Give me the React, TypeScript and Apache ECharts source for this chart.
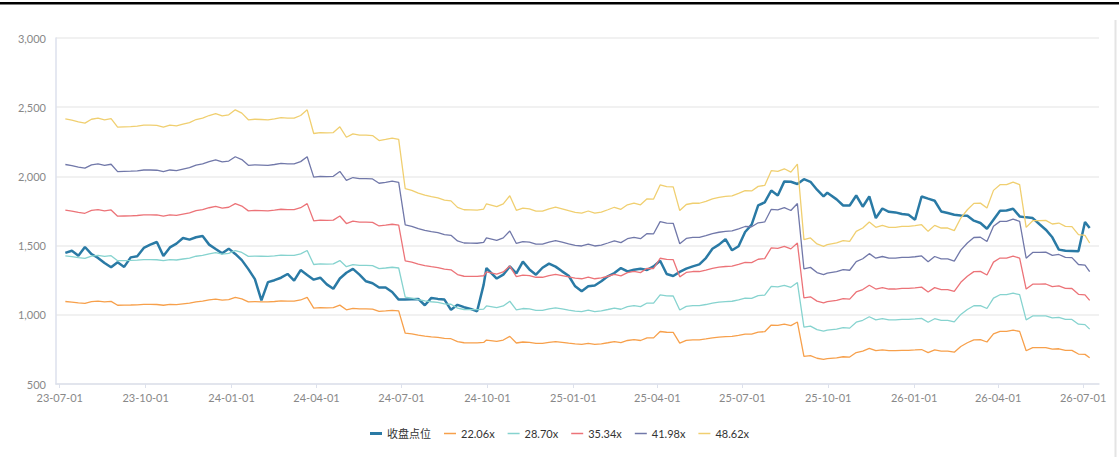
import React, { useEffect, useRef } from "react";
import * as echarts from "echarts";

const dates = [
  "2023-07-07","2023-07-14","2023-07-21","2023-07-28","2023-08-04","2023-08-11","2023-08-18","2023-08-25","2023-09-01","2023-09-08",
  "2023-09-15","2023-09-22","2023-09-29","2023-10-06","2023-10-13","2023-10-20","2023-10-27","2023-11-03","2023-11-10","2023-11-17",
  "2023-11-24","2023-12-01","2023-12-08","2023-12-15","2023-12-22","2023-12-29",
  "2024-01-05","2024-01-12","2024-01-19","2024-01-26","2024-02-02","2024-02-09","2024-02-16","2024-02-23","2024-03-01","2024-03-08",
  "2024-03-15","2024-03-22","2024-03-29","2024-04-05","2024-04-12","2024-04-19","2024-04-26","2024-05-03","2024-05-10","2024-05-17",
  "2024-05-24","2024-05-31","2024-06-07","2024-06-14","2024-06-21","2024-06-28","2024-07-05","2024-07-12","2024-07-19","2024-07-26",
  "2024-08-02","2024-08-09","2024-08-16","2024-08-23","2024-08-30","2024-09-06","2024-09-13","2024-09-20","2024-09-27","2024-09-30",
  "2024-10-11","2024-10-18","2024-10-25","2024-11-01","2024-11-08","2024-11-15","2024-11-22","2024-11-29","2024-12-06","2024-12-13",
  "2024-12-20","2024-12-27",
  "2025-01-03","2025-01-10","2025-01-17","2025-01-24","2025-01-31","2025-02-07","2025-02-14","2025-02-21","2025-02-28","2025-03-07",
  "2025-03-14","2025-03-21","2025-03-28","2025-04-04","2025-04-11","2025-04-18","2025-04-25","2025-05-02","2025-05-09","2025-05-16",
  "2025-05-23","2025-05-30","2025-06-06","2025-06-13","2025-06-20","2025-06-27","2025-07-04","2025-07-11","2025-07-18","2025-07-25",
  "2025-08-01","2025-08-08","2025-08-15","2025-08-22","2025-08-29","2025-09-05","2025-09-12","2025-09-19","2025-09-26","2025-09-30",
  "2025-10-10","2025-10-17","2025-10-24","2025-10-31","2025-11-07","2025-11-14","2025-11-21","2025-11-28","2025-12-05","2025-12-12",
  "2025-12-19","2025-12-26",
  "2026-01-02","2026-01-09","2026-01-16","2026-01-23","2026-01-30","2026-02-06","2026-02-13","2026-02-20","2026-02-27","2026-03-06",
  "2026-03-13","2026-03-20","2026-03-27","2026-04-03","2026-04-10","2026-04-17","2026-04-24","2026-05-01","2026-05-08","2026-05-15",
  "2026-05-22","2026-05-29","2026-06-05","2026-06-12","2026-06-19","2026-06-26","2026-07-03","2026-07-08"
];

const closeValues = [
  1447,1463,1427,1490,1439,1411,1374,1343,1379,1346,
  1415,1423,1483,1507,1526,1425,1487,1514,1555,1543,
  1560,1569,1507,1475,1444,1478,
  1440,1395,1330,1258,1104,1236,1250,1268,1295,1247,
  1323,1288,1254,1268,1220,1188,1262,1304,1332,1290,
  1242,1228,1197,1197,1165,1110,1110,1112,1115,1069,
  1122,1115,1110,1036,1072,1055,1043,1026,1218,1338,
  1262,1290,1350,1300,1384,1328,1290,1340,1370,1348,
  1314,1282,
  1206,1170,1206,1212,1242,1278,1302,1338,1314,1326,
  1333,1324,1350,1391,1295,1280,1310,1334,1350,1364,
  1410,1477,1507,1546,1466,1495,1598,1651,1790,1812,
  1898,1862,1964,1961,1945,1980,1961,1904,1856,1882,
  1834,1790,1790,1862,1781,1855,1699,1768,1744,1740,
  1728,1723,
  1687,1855,1839,1824,1747,1735,1723,1718,1716,1680,
  1663,1622,1687,1752,1754,1766,1711,1704,1699,1656,
  1615,1560,1471,1463,1461,1459,1670,1627
];

// top band (48.62x); EPS = value / 48.62
const topBandValues = [
  2416,2406,2394,2385,2413,2421,2409,2418,2356,2358,
  2360,2363,2370,2370,2368,2356,2370,2365,2377,2389,
  2411,2421,2440,2454,2437,2445,
  2481,2457,2409,2413,2411,2409,2416,2425,2421,2421,
  2440,2481,2310,2317,2315,2317,2358,2283,2307,2298,
  2298,2295,2259,2267,2276,2267,1911,1899,1879,1864,
  1854,1845,1829,1823,1776,1759,1758,1757,1764,1802,
  1781,1802,1860,1755,1771,1766,1749,1749,1766,1778,
  1766,1752,
  1740,1734,1750,1734,1742,1759,1777,1762,1795,1807,
  1795,1838,1836,1938,1926,1924,1753,1797,1806,1806,
  1820,1838,1849,1856,1860,1878,1897,1895,1928,1935,
  2041,2036,2055,2031,2089,1543,1555,1512,1495,1507,
  1519,1536,1531,1603,1627,1670,1632,1646,1632,1632,
  1639,1639,
  1644,1651,1603,1646,1627,1627,1608,1699,1759,1805,
  1807,1771,1899,1940,1940,1959,1940,1632,1680,1680,
  1682,1656,1663,1639,1637,1579,1574,1519
];

const peMultiples = [22.06, 28.7, 35.34, 41.98, 48.62];
const bandNames = ["22.06x", "28.70x", "35.34x", "41.98x", "48.62x"];
const closeName = "收盘点位";
const bandColors = ["#f7a04b", "#86d3cf", "#ec7378", "#7178a9", "#f0cf70"];
const closeColor = "#2a7aa5";

const FONT = "Lato, 'Noto Sans CJK SC', sans-serif";
const THICK_ICON = "path://M0,0H24V6H0Z";
const THIN_ICON = "path://M0,0H24V3H0Z";

export default function App() {
  const ref = useRef<HTMLDivElement>(null);
  useEffect(() => {
    if (!ref.current) return;
    const chart = echarts.init(ref.current, undefined, { renderer: "svg" });
    const eps = topBandValues.map((v) => v / 48.62);
    const bandSeries = peMultiples.map((m, k) => ({
      name: bandNames[k],
      type: "line",
      symbol: "none",
      showSymbol: false,
      lineStyle: { width: 1.3, color: bandColors[k] },
      itemStyle: { color: bandColors[k] },
      data: dates.map((d, i) => [d, Math.round(eps[i] * m * 100) / 100]),
    }));
    const DAY = 24 * 3600 * 1000;
    chart.setOption({
      animation: false,
      textStyle: { fontFamily: FONT },
      graphic: [
        { type: "rect", left: 0, top: 2, shape: { x: 0, y: 0, width: 1119, height: 2.5 }, style: { fill: "#000" } },
        { type: "line", shape: { x1: 1115.5, y1: 20, x2: 1115.5, y2: 457 }, style: { stroke: "#e4e4e4", lineWidth: 2 } },
      ],
      legend: {
        top: 423,
        left: "center",
        itemWidth: 12,
        itemHeight: 10,
        itemGap: 13,
        symbolKeepAspect: true,
        textStyle: { fontSize: 11, color: "#333", fontFamily: FONT },
        data: [
          { name: closeName, icon: THICK_ICON, symbolKeepAspect: true },
          ...bandNames.map((n) => ({ name: n, icon: THIN_ICON, symbolKeepAspect: true })),
        ],
      },
      grid: { left: 56, right: 20, top: 38, bottom: 73, containLabel: false },
      xAxis: {
        type: "time",
        min: "2023-06-27",
        max: "2026-07-18",
        splitNumber: 12,
        minInterval: 92 * DAY,
        maxInterval: 94 * DAY,
        axisLine: { show: true, lineStyle: { color: "#dde1ec", width: 1.5 } },
        axisTick: { show: true, length: 4, lineStyle: { color: "#dde1ec" } },
        splitLine: { show: false },
        axisLabel: {
          color: "#888",
          fontSize: 11,
          margin: 8,
          fontFamily: FONT,
          formatter: (val: number) => {
            const d = new Date(val);
            const yy = String(d.getFullYear()).slice(2);
            const mm = String(d.getMonth() + 1).padStart(2, "0");
            const dd = String(d.getDate()).padStart(2, "0");
            return `${yy}-${mm}-${dd}`;
          },
        },
      },
      yAxis: {
        type: "value",
        min: 500,
        max: 3000,
        interval: 500,
        axisLine: { show: true, lineStyle: { color: "#dde1ec", width: 1.5 } },
        axisTick: { show: false },
        splitLine: { show: true, lineStyle: { color: "#ececec", width: 1.5 } },
        axisLabel: {
          color: "#888",
          fontSize: 11,
          margin: 10,
          fontFamily: FONT,
          formatter: (v: number) => v.toLocaleString("en-US"),
        },
      },
      series: [
        {
          name: closeName,
          type: "line",
          symbol: "none",
          showSymbol: false,
          z: 3,
          lineStyle: { width: 2.5, color: closeColor },
          itemStyle: { color: closeColor },
          data: dates.map((d, i) => [d, closeValues[i]]),
        },
        ...bandSeries,
      ],
    });
    return () => chart.dispose();
  }, []);
  return (
    <div style={{ position: "fixed", left: 0, top: 0, width: 1119, height: 457, background: "#fff" }}>
      <div ref={ref} style={{ width: 1119, height: 457 }} />
    </div>
  );
}
